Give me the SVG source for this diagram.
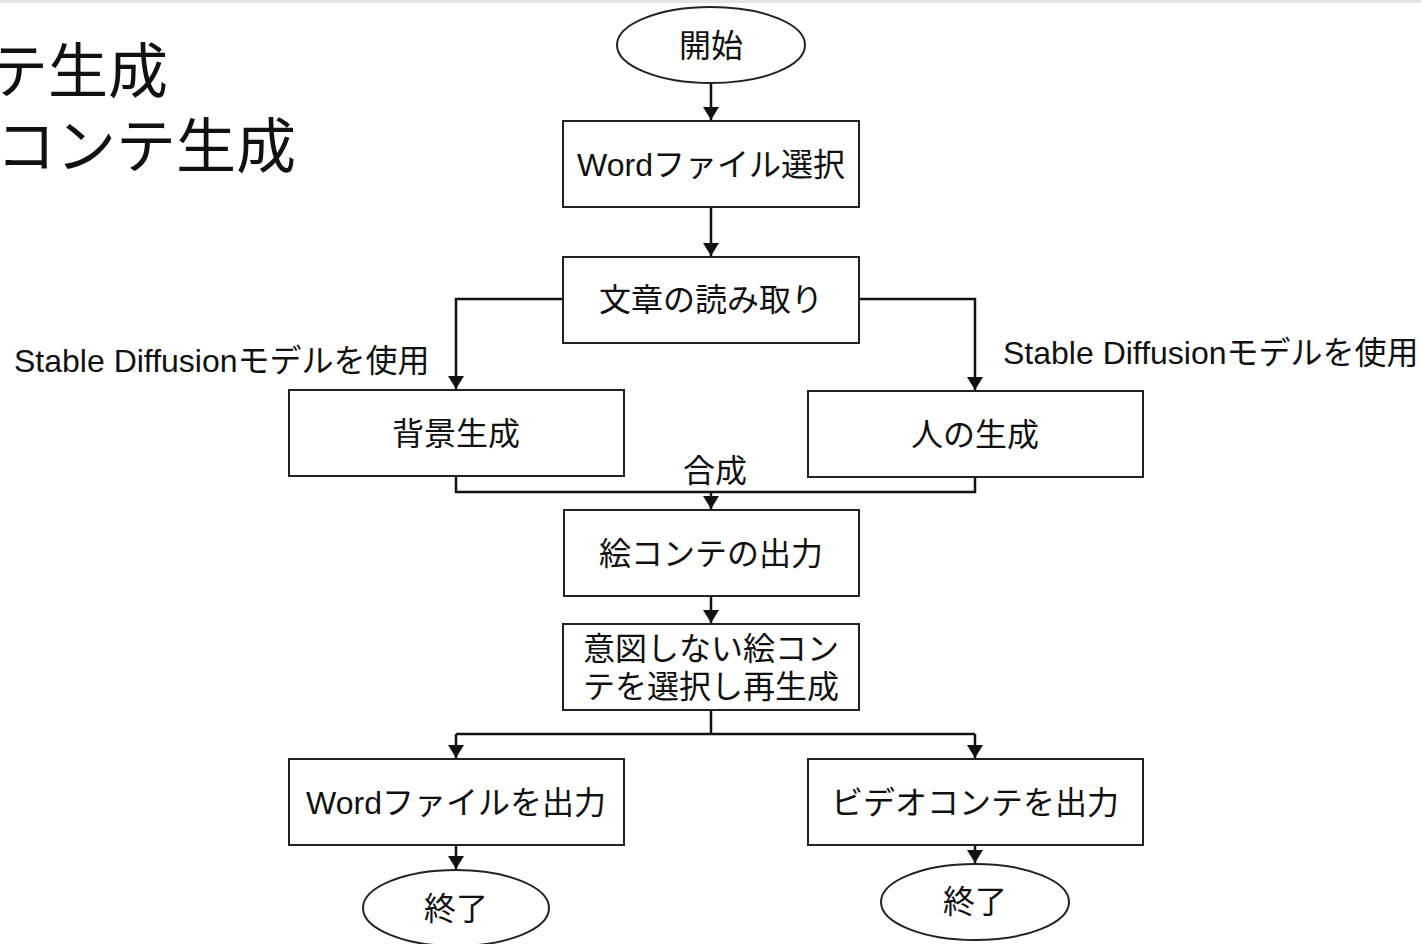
<svg xmlns="http://www.w3.org/2000/svg" width="1421" height="944" viewBox="0 0 1421 944">
<style>
  .t{font-family:"Liberation Sans","Noto Sans CJK JP",sans-serif;fill:#111;text-anchor:middle;font-size:32px}
  .lbl{font-family:"Liberation Sans","Noto Sans CJK JP",sans-serif;fill:#111;font-size:32px}
  .ttl{font-family:"Noto Sans CJK JP",sans-serif;fill:#111;font-size:60px;text-anchor:end}
  .box{fill:#fff;stroke:#222;stroke-width:2}
  .ln{fill:none;stroke:#111;stroke-width:2.5}
</style>
<defs>
  <marker id="ah" viewBox="0 0 13 16" refX="13" refY="8" markerWidth="13" markerHeight="16" markerUnits="userSpaceOnUse" orient="auto">
    <path d="M0,0 L13,8 L0,16 Z" fill="#111"/>
  </marker>
</defs>
<rect x="0" y="0" width="1421" height="944" fill="#fff"/>
<rect x="0" y="0" width="1421" height="3" fill="#e4e4e4"/>
<g id="title">
  <text class="ttl" x="168" y="93">テ生成</text>
  <text class="ttl" x="296" y="168">コンテ生成</text>
</g>
<g id="connectors">
  <path class="ln" d="M711,84 V120" marker-end="url(#ah)"/>
  <path class="ln" d="M711,207 V256" marker-end="url(#ah)"/>
  <path class="ln" d="M563,299 H456 V389" marker-end="url(#ah)"/>
  <path class="ln" d="M859,299 H975 V390" marker-end="url(#ah)"/>
  <path class="ln" d="M456,476 V492 H975 V477"/>
  <path class="ln" d="M711,492 V509" marker-end="url(#ah)"/>
  <path class="ln" d="M711,596 V623" marker-end="url(#ah)"/>
  <path class="ln" d="M711,710 V734 M456,734 H975"/>
  <path class="ln" d="M456,734 V758" marker-end="url(#ah)"/>
  <path class="ln" d="M975,734 V758" marker-end="url(#ah)"/>
  <path class="ln" d="M456,845 V869" marker-end="url(#ah)"/>
  <path class="ln" d="M975,845 V863" marker-end="url(#ah)"/>
  <text class="lbl" x="14" y="372">Stable Diffusionモデルを使用</text>
  <text class="lbl" x="1003" y="364">Stable Diffusionモデルを使用</text>
  <text class="lbl" x="715" y="482" text-anchor="middle">合成</text>
</g>
<g id="start">
  <ellipse class="box" cx="711" cy="45" rx="94" ry="38"/>
  <text class="t" x="711" y="57">開始</text>
</g>
<g id="select-word">
  <rect class="box" x="563" y="121" width="296" height="86"/>
  <text class="t" x="711" y="176">Wordファイル選択</text>
</g>
<g id="read-text">
  <rect class="box" x="563" y="257" width="296" height="86"/>
  <text class="t" x="711" y="311">文章の読み取り</text>
</g>
<g id="background">
  <rect class="box" x="289" y="390" width="335" height="86"/>
  <text class="t" x="456" y="445">背景生成</text>
</g>
<g id="person">
  <rect class="box" x="808" y="391" width="335" height="86"/>
  <text class="t" x="975" y="446">人の生成</text>
</g>
<g id="output-storyboard">
  <rect class="box" x="564" y="510" width="295" height="86"/>
  <text class="t" x="711" y="565">絵コンテの出力</text>
</g>
<g id="regenerate">
  <rect class="box" x="563" y="624" width="296" height="86"/>
  <text class="t" x="711" y="660">意図しない絵コン</text>
  <text class="t" x="711" y="698">テを選択し再生成</text>
</g>
<g id="output-word">
  <rect class="box" x="289" y="759" width="335" height="86"/>
  <text class="t" x="456" y="814">Wordファイルを出力</text>
</g>
<g id="output-video">
  <rect class="box" x="808" y="759" width="335" height="86"/>
  <text class="t" x="975" y="814">ビデオコンテを出力</text>
</g>
<g id="end-left">
  <ellipse class="box" cx="456" cy="908" rx="93" ry="38"/>
  <text class="t" x="456" y="920">終了</text>
</g>
<g id="end-right">
  <ellipse class="box" cx="975" cy="902" rx="94" ry="38"/>
  <text class="t" x="975" y="913">終了</text>
</g>
</svg>
